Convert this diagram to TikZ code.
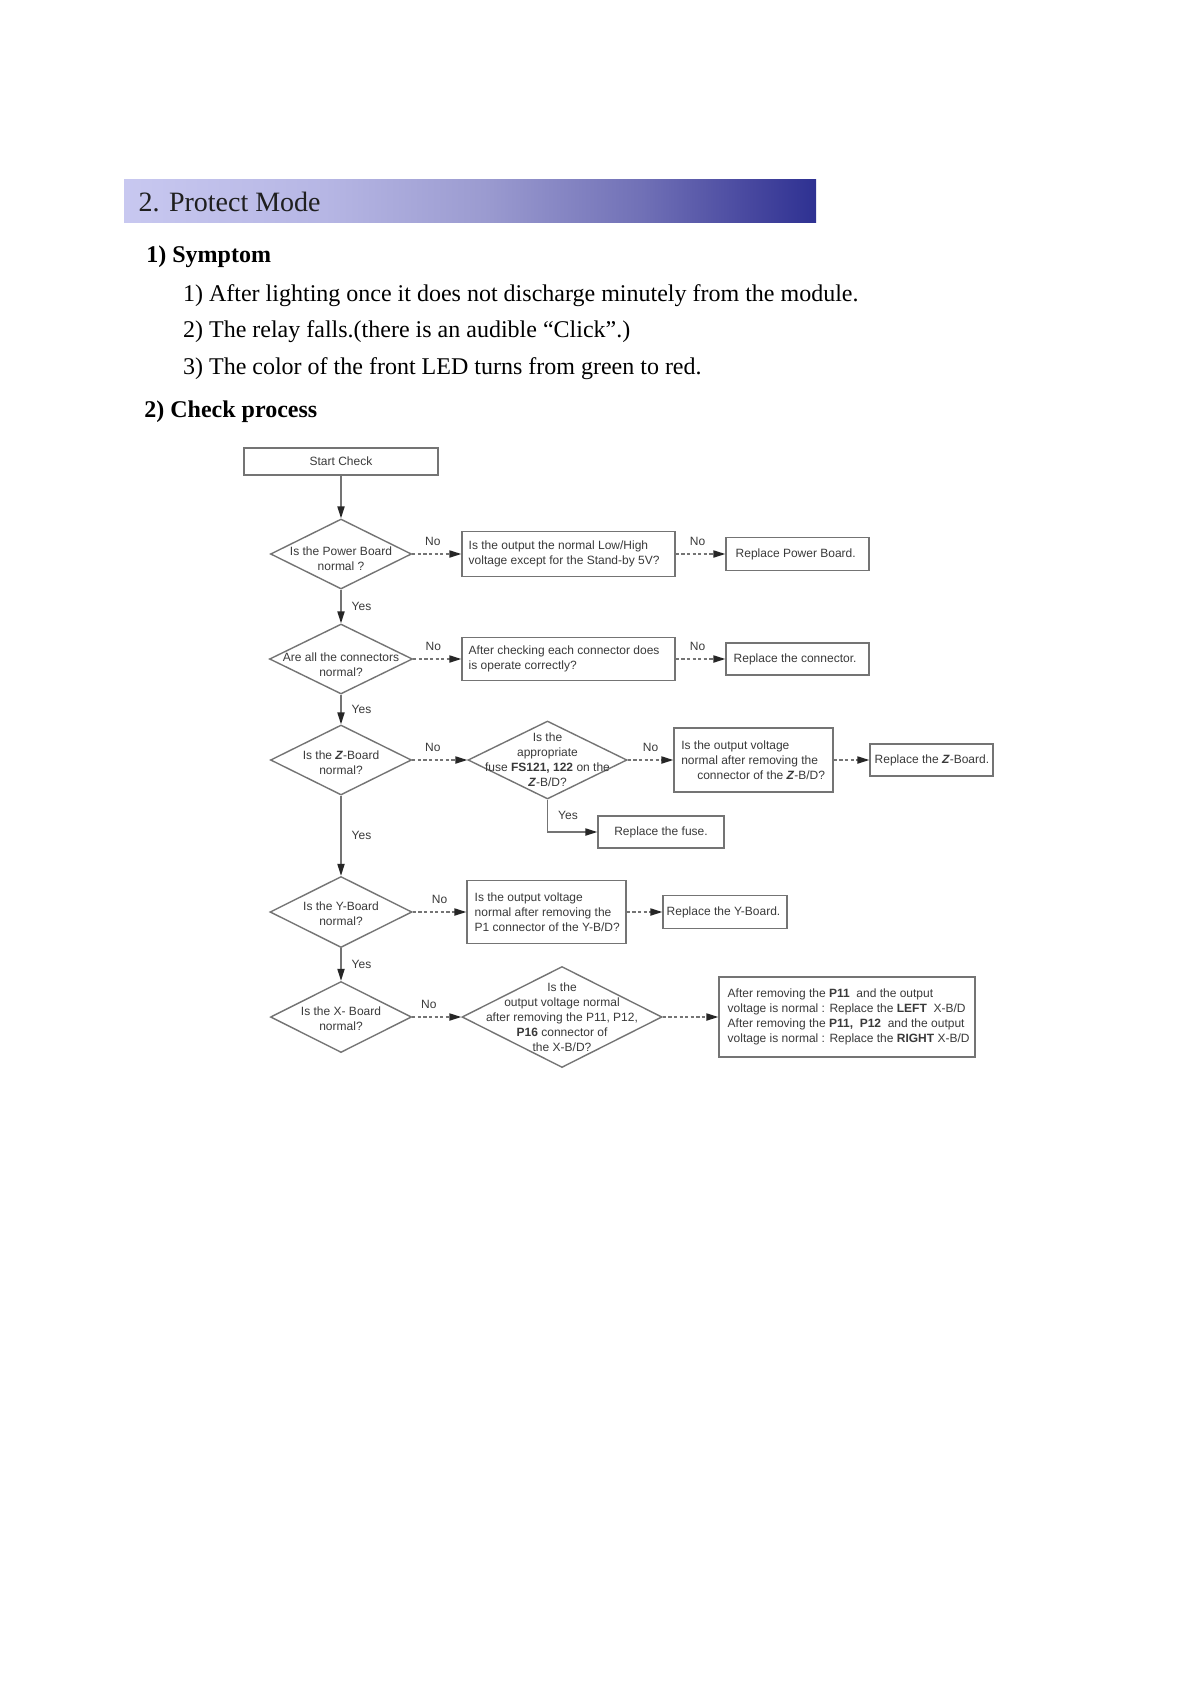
\documentclass[tikz,border=0pt]{standalone}
\usepackage{fontspec}
\setmainfont{Liberation Serif}
\newfontfamily\fcsans{Liberation Sans}
\usetikzlibrary{arrows.meta,shapes.geometric}
\definecolor{lnc}{HTML}{747474}
\definecolor{txc}{HTML}{3A3A3A}
\definecolor{bA}{RGB}{200,200,240}
\definecolor{bB}{RGB}{182,182,228}
\definecolor{bC}{RGB}{155,155,208}
\definecolor{bD}{RGB}{112,112,182}
\definecolor{bE}{RGB}{70,70,158}
\definecolor{bF}{RGB}{46,49,146}
\pgfdeclarehorizontalshading{barshade}{100bp}{color(0bp)=(bA); color(25bp)=(bA); color(39.5bp)=(bB); color(51bp)=(bC); color(62.5bp)=(bD); color(70.5bp)=(bE); color(75bp)=(bF); color(100bp)=(bF)}
\tikzset{
  fbox/.style={draw=lnc, line width=0.7pt, rectangle, inner sep=0pt},
  fdia/.style={draw=lnc, line width=0.7pt, diamond, inner sep=0pt},
  ftxt/.style={font=\fcsans\fontsize{6}{7.5}\selectfont, text=txc, inner sep=0pt},
  flbl/.style={font=\fcsans\fontsize{6}{7.5}\selectfont, text=txc, inner sep=1pt},
  solidarr/.style={draw=lnc, line width=0.7pt, -{Triangle[length=6pt,width=3.6pt,color=black!85]}},
  dasharr/.style={solidarr, dash pattern=on 1.6pt off 1.2pt},
  bodytxt/.style={anchor=base west, inner sep=0pt, font=\fontsize{12}{14}\selectfont},
  headtxt/.style={anchor=base west, inner sep=0pt, font=\bfseries\fontsize{12}{14}\selectfont}
}
\begin{document}
\begin{tikzpicture}[x=0.5pt,y=-0.5pt]
\useasboundingbox (0,0) rectangle (1191,1685);
\fill[white] (0,0) rectangle (1191,1685);
% header bar
\fill[shading=barshade] (124,179.5) rectangle (816,222.5);
\node[anchor=base west, inner sep=0pt, font=\fontsize{14}{16}\selectfont, text=black!88] (title) at (138.3,211.7) {2. Protect Mode};
\node[headtxt] (sym) at (146,263) {1) Symptom};
\node[bodytxt] (s1) at (182.7,301) {1) After lighting once it does not discharge minutely from the module.};
\node[bodytxt] (s2) at (182.7,337.5) {2) The relay falls.(there is an audible “Click”.)};
\node[bodytxt] (s3) at (182.7,374.5) {3) The color of the front LED turns from green to red.};
\node[headtxt] (chk) at (144,417) {2) Check process};

% flowchart nodes
\node[fbox, minimum width=97pt, minimum height=13.5pt] (start) at (341,461.5) {};
\node[ftxt] (startt) at (start) {Start Check};

\node[fdia, minimum width=70.5pt, minimum height=35pt] (d1) at (341,554) {};
\node[ftxt, align=center, yshift=-2.5pt] (d1t) at (d1) {Is the Power Board\\normal ?};
\node[fbox, minimum width=106.5pt, minimum height=22.5pt] (b1) at (568.5,554) {};
\node[ftxt, align=left, anchor=west] (b1t) at ([xshift=3.5pt]b1.west) {Is the output the normal Low/High\\voltage except for the Stand-by 5V?};
\node[fbox, minimum width=71.5pt, minimum height=16.5pt] (r1) at (797.5,554) {};
\node[ftxt, anchor=west] (r1t) at ([xshift=5pt]r1.west) {Replace Power Board.};

\node[fdia, minimum width=71.5pt, minimum height=35pt] (d2) at (341,659) {};
\node[ftxt, align=center, yshift=-3pt] (d2t) at (d2) {Are all the connectors\\normal?};
\node[fbox, minimum width=106.5pt, minimum height=21.5pt] (b2) at (568.5,659) {};
\node[ftxt, align=left, anchor=west] (b2t) at ([xshift=3.5pt]b2.west) {After checking each connector does\\is operate correctly?};
\node[fbox, minimum width=71.5pt, minimum height=16pt] (r2) at (797.5,659) {};
\node[ftxt, anchor=west] (r2t) at ([xshift=4pt]r2.west) {Replace the connector.};

\node[fdia, minimum width=70.5pt, minimum height=35pt] (d3) at (341,760) {};
\node[ftxt, align=center, yshift=-1.5pt] (d3t) at (d3) {Is the \textbf{\textit{Z}}-Board\\normal?};
\node[fdia, minimum width=79.5pt, minimum height=39pt] (d4) at (547.5,760) {};
\node[ftxt, align=center] (d4t) at (d4) {Is the\\appropriate\\fuse \textbf{FS121, 122} on the\\\textbf{\textit{Z}}-B/D?};
\node[fbox, minimum width=79.5pt, minimum height=32pt] (b3) at (753.5,760) {};
\node[ftxt, align=left, anchor=west] (b3t) at ([xshift=3.8pt]b3.west) {Is the output voltage\\normal after removing the\\\hspace*{8pt}connector of the \textbf{\textit{Z}}-B/D?};
\node[fbox, minimum width=61.5pt, minimum height=16pt] (r3) at (931.5,760) {};
\node[ftxt, anchor=west] (r3t) at ([xshift=2.5pt]r3.west) {Replace the \textbf{\textit{Z}}-Board.};
\node[fbox, minimum width=63pt, minimum height=16pt] (rf) at (661,832) {};
\node[ftxt] (rft) at (rf) {Replace the fuse.};

\node[fdia, minimum width=71pt, minimum height=35.5pt] (d5) at (341,912) {};
\node[ftxt, align=center, yshift=-1pt] (d5t) at (d5) {Is the Y-Board\\normal?};
\node[fbox, minimum width=79.5pt, minimum height=31.5pt] (b4) at (546.5,912) {};
\node[ftxt, align=left, anchor=west] (b4t) at ([xshift=4pt]b4.west) {Is the output voltage\\normal after removing the\\P1 connector of the Y-B/D?};
\node[fbox, minimum width=62pt, minimum height=16.5pt] (r4) at (725,912) {};
\node[ftxt, anchor=west] (r4t) at ([xshift=2pt]r4.west) {Replace the Y-Board.};

\node[fdia, minimum width=70.5pt, minimum height=35.5pt] (d6) at (341,1017) {};
\node[ftxt, align=center, yshift=-1pt] (d6t) at (d6) {Is the X- Board\\normal?};
\node[fdia, minimum width=100pt, minimum height=50.5pt] (d7) at (562,1017) {};
\node[ftxt, align=center] (d7t) at (d7) {Is the\\output voltage normal\\after removing the P11, P12,\\\textbf{P16} connector of\\the X-B/D?};
\node[fbox, minimum width=128pt, minimum height=40pt] (bf) at (847,1017) {};
\node[ftxt, align=left, anchor=west] (bft) at ([xshift=4.5pt]bf.west) {After removing the \textbf{P11}\ \ and the output\\voltage is normal : Replace the \textbf{LEFT}\ \ X-B/D\\After removing the \textbf{P11,\ \ P12}\ \ and the output\\voltage is normal : Replace the \textbf{RIGHT} X-B/D};

% connectors
\draw[solidarr] (start.south) -- (d1.north);
\draw[dasharr] (d1.east) -- node[flbl, above=3pt, xshift=-2pt] (n1) {No} (b1.west);
\draw[dasharr] (b1.east) -- node[flbl, above=3pt, xshift=-1.5pt] (n2) {No} (r1.west);
\draw[solidarr] (d1.south) -- node[flbl, right=4pt] (y1) {Yes} (d2.north);
\draw[dasharr] (d2.east) -- node[flbl, above=3pt, xshift=-2pt] (n3) {No} (b2.west);
\draw[dasharr] (b2.east) -- node[flbl, above=3pt, xshift=-1.5pt] (n4) {No} (r2.west);
\draw[solidarr] (d2.south) -- node[flbl, right=4pt] (y2) {Yes} (d3.north);
\draw[dasharr] (d3.east) -- node[flbl, above=3pt, xshift=-3.5pt] (n5) {No} (d4.west);
\draw[dasharr] (d4.east) -- node[flbl, above=3pt] (n6) {No} (b3.west);
\draw[dasharr] (b3.east) -- (r3.west);
\draw[solidarr] (d4.south) |- node[flbl, pos=0.25, right=4pt] (y3) {Yes} (rf.west);
\draw[solidarr] (d3.south) -- node[flbl, right=4pt] (y4) {Yes} (d5.north);
\draw[dasharr] (d5.east) -- node[flbl, above=3pt] (n7) {No} (b4.west);
\draw[dasharr] (b4.east) -- (r4.west);
\draw[solidarr] (d5.south) -- node[flbl, right=4pt] (y5) {Yes} (d6.north);
\draw[dasharr] (d6.east) -- node[flbl, above=3pt, xshift=-4pt] (n8) {No} (d7.west);
\draw[dasharr] (d7.east) -- (bf.west);
\end{tikzpicture}
\end{document}
